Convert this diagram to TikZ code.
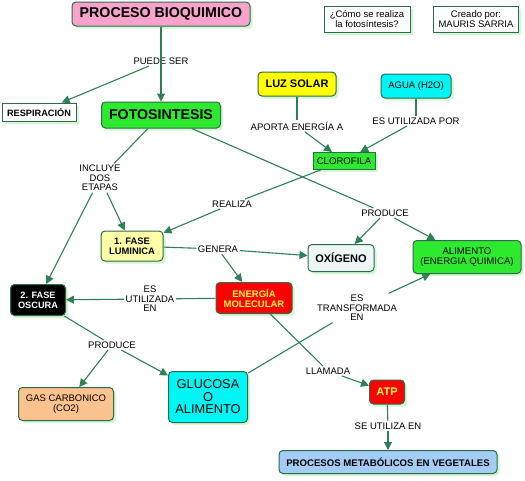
\documentclass[tikz,border=0pt]{standalone}
\usepackage{fontspec}
\setmainfont{Liberation Sans}
\usetikzlibrary{arrows.meta,shadows}
\definecolor{bd}{HTML}{2E6B4C}
\definecolor{lnc}{HTML}{2F7F57}
\definecolor{shad}{HTML}{D2F7D2}
\definecolor{cpink}{HTML}{F7A3CB}
\definecolor{cgreen}{HTML}{2EEA2E}
\definecolor{cyel}{HTML}{FFFF00}
\definecolor{ccyan}{HTML}{00F5F5}
\definecolor{clyel}{HTML}{FFFFA8}
\definecolor{cox}{HTML}{EEF5F5}
\definecolor{cred}{HTML}{FF0000}
\definecolor{corange}{HTML}{F9C28E}
\definecolor{cblue}{HTML}{A3CDF5}
\definecolor{ctxt}{HTML}{FFFF33}
\begin{document}
\begin{tikzpicture}[x=1pt,y=-1pt,
  box/.style={draw=bd, line width=1pt, rounded corners=4pt, align=center, inner sep=0pt,
    drop shadow={shadow xshift=2.5pt, shadow yshift=-2.5pt, fill=shad, opacity=1}},
  sbox/.style={box, rounded corners=0pt},
  lbl/.style={font=\fontsize{9.5}{9.6}\selectfont, align=center, inner sep=1.5pt},
  ln/.style={draw=lnc, line width=1.1pt},
  arr/.style={ln, -{Triangle[length=8pt,width=8pt]}},
  fb/.style={font=\bfseries\fontsize{#1}{#1}\selectfont},
  fn/.style={font=\fontsize{#1}{#1}\selectfont}]
\useasboundingbox (0,0) rectangle (525,480);
% nodes
\node[box, fill=cpink, minimum width=178, minimum height=24, fb=14.2] (pb) at (161,14) {PROCESO BIOQUIMICO};
\node[sbox, fill=white, minimum width=74, minimum height=18, fb=9.2] (resp) at (39,112) {RESPIRACIÓN};
\node[box, fill=cgreen, minimum width=119, minimum height=26, fb=14.2] (fo) at (161,115) {FOTOSINTESIS};
\node[sbox, fill=white, minimum width=86, minimum height=26, font=\fontsize{9.5}{10}\selectfont] (q) at (367,19) {¿Cómo se realiza\\la fotosíntesis?};
\node[sbox, fill=white, minimum width=85, minimum height=26, font=\fontsize{9.5}{10}\selectfont] (cr) at (476,19) {Creado por:\\MAURIS SARRIA};
\node[box, fill=cyel, minimum width=78, minimum height=24, fb=11] (luz) at (297,84) {LUZ SOLAR};
\node[box, fill=ccyan, minimum width=70, minimum height=24, fn=9.5] (agua) at (416,86) {AGUA (H2O)};
\node[sbox, fill=cgreen, minimum width=62, minimum height=17, fn=9.6] (clo) at (344,161) {CLOROFILA};
\node[box, fill=clyel, minimum width=62, minimum height=30, font=\bfseries\fontsize{9.4}{10}\selectfont] (f1) at (132,246) {1. FASE\\LUMINICA};
\node[box, fill=cox, minimum width=66, minimum height=27, fb=11] (ox) at (341,258) {OXÍGENO};
\node[box, fill=cgreen, minimum width=108, minimum height=33, font=\fontsize{9.6}{10}\selectfont] (ali) at (467,257) {ALIMENTO\\(ENERGIA QUIMICA)};
\node[box, fill=black, text=white, minimum width=55, minimum height=31, font=\bfseries\fontsize{9.2}{10}\selectfont] (f2) at (38,300) {2. FASE\\OSCURA};
\node[box, fill=cred, text=ctxt, minimum width=76, minimum height=31, font=\bfseries\fontsize{9.5}{10}\selectfont] (en) at (254,298) {ENERGÍA\\MOLECULAR};
\node[box, fill=corange, minimum width=95, minimum height=33, font=\fontsize{9.5}{10}\selectfont] (gas) at (66,404) {GAS CARBONICO\\(CO2)};
\node[box, fill=ccyan, minimum width=79, minimum height=51, font=\fontsize{12.8}{12.5}\selectfont] (glu) at (208,397) {GLUCOSA\\O\\ALIMENTO};
\node[box, fill=cred, text=ctxt, minimum width=35, minimum height=24, fb=11] (atp) at (387,392) {ATP};
\node[box, fill=cblue, minimum width=218, minimum height=23, fb=9.6] (pm) at (388,462) {PROCESOS METABÓLICOS EN VEGETALES};
% labels
\node[lbl] (ps) at (161,61) {PUEDE SER};
\node[lbl] (ae) at (297,126) {APORTA ENERGÍA A};
\node[lbl] (eu) at (416,121) {ES UTILIZADA POR};
\node[lbl] (inc) at (100,178) {INCLUYE\\DOS\\ETAPAS};
\node[lbl] (re) at (232,204) {REALIZA};
\node[lbl] (pr1) at (385,213) {PRODUCE};
\node[lbl] (ge) at (218,249) {GENERA};
\node[lbl] (eue) at (150,299) {ES\\UTILIZADA\\EN};
\node[lbl] (etf) at (357,308) {ES\\TRANSFORMADA\\EN};
\node[lbl] (pr2) at (112,345) {PRODUCE};
\node[lbl] (ll) at (328,371) {LLAMADA};
\node[lbl] (su) at (388,426) {SE UTILIZA EN};
% connectors
\draw[arr] (pb) -- (fo);
\draw[arr] (ps) -- (resp);
\draw[ln] (luz) -- (ae);
\draw[arr] (ae) -- (clo);
\draw[ln] (agua) -- (eu);
\draw[arr] (eu) -- (clo);
\draw[ln] (fo) -- (inc);
\draw[arr] (inc) -- (f1);
\draw[arr] (inc) -- (f2);
\draw[ln] (clo) -- (re);
\draw[arr] (re) -- (f1);
\draw[ln] (fo) -- (pr1);
\draw[arr] (pr1) -- (ox);
\draw[arr] (pr1) -- (ali);
\draw[ln] (f1) -- (ge);
\draw[arr] (ge) -- (ox);
\draw[arr] (ge) -- (en);
\draw[ln] (en) -- (eue);
\draw[arr] (eue) -- (f2);
\draw[ln] (f2) -- (pr2);
\draw[arr] (pr2) -- (gas);
\draw[arr] (pr2) -- (glu);
\draw[ln] (glu) -- (etf);
\draw[arr] (etf) -- (ali);
\draw[ln] (en) -- (ll);
\draw[arr] (ll) -- (atp);
\draw[ln] (atp) -- (su);
\draw[arr] (su) -- (pm);
\end{tikzpicture}
\end{document}
